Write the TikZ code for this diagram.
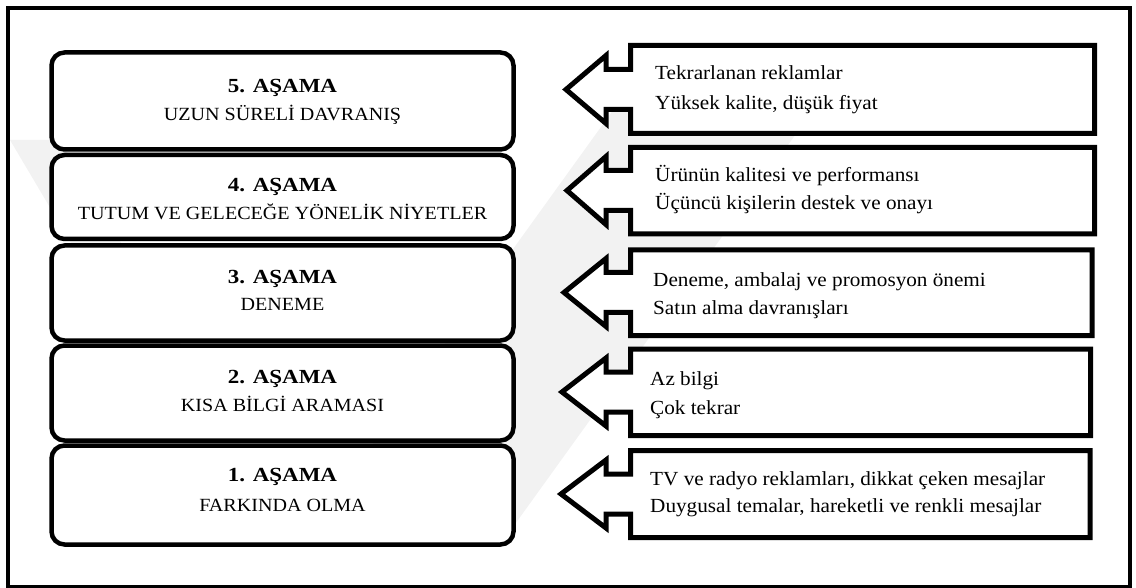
\documentclass[tikz,border=0pt]{standalone}
\usepackage{fontspec}
\setmainfont{Liberation Serif}[FakeStretch=1.06]
\newfontfamily\stagefont{Liberation Serif}[FakeStretch=1.08]
\newfontfamily\headfont{Liberation Serif}[FakeStretch=1.15]
\newcommand{\mycallout}[5]{%
  \draw[calloutshape] (630.5,#2) -- (#4,#2) -- (#4,#3) -- (630.5,#3) -- (630.5,{#1+20}) -- (606,{#1+20}) -- (606,{#1+34}) -- (#5,#1) -- (606,{#1-34}) -- (606,{#1-20}) -- (630.5,{#1-20}) -- cycle;}
\begin{document}
\begin{tikzpicture}[x=1pt,y=-1pt,
  stagebox/.style={draw=black, fill=white, line width=4.5pt, rounded corners=13pt, minimum width=462pt, inner sep=0pt},
  calloutshape/.style={draw=black, fill=white, line width=5pt, miter limit=10, line join=miter},
  stagehead/.style={anchor=base, inner sep=0pt, font=\headfont\bfseries\fontsize{20}{24}\selectfont},
  stagetext/.style={anchor=base, inner sep=0pt, font=\stagefont\fontsize{18.6}{22}\selectfont},
  callouttext/.style={anchor=base west, inner sep=0pt, font=\fontsize{20}{24}\selectfont},
  watermark/.style={fill=black!5, draw=none}]
\useasboundingbox (0,0) rectangle (1136,588);
% faint watermark
\begin{scope}
  \clip (8,8) rectangle (1130,586.5);
  \fill[watermark] (10,140) -- (60,140) -- (300,545) -- (250,545) -- cycle;
  \fill[watermark] (300,545) -- (500,545) -- (860,45) -- (660,45) -- cycle;
\end{scope}
% outer frame
\draw[line width=3.5pt] (8,8) rectangle (1130,586.5);
% stage boxes
\node[stagebox, minimum height=97pt] (s5) at (282.5,101) {};
\node[stagebox, minimum height=84pt] (s4) at (282.5,197) {};
\node[stagebox, minimum height=95pt] (s3) at (282.5,293) {};
\node[stagebox, minimum height=95pt] (s2) at (282.5,393) {};
\node[stagebox, minimum height=99pt] (s1) at (282.5,495) {};
\node[stagehead] (s5h) at (282.5,92.7) {5. AŞAMA};
\node[stagetext] (s5t) at (282.5,120.7) {UZUN SÜRELİ DAVRANIŞ};
\node[stagehead] (s4h) at (282.5,191.7) {4. AŞAMA};
\node[stagetext] (s4t) at (282.5,219.3) {TUTUM VE GELECEĞE YÖNELİK NİYETLER};
\node[stagehead] (s3h) at (282.5,283.3) {3. AŞAMA};
\node[stagetext] (s3t) at (282.5,311) {DENEME};
\node[stagehead] (s2h) at (282.5,383.3) {2. AŞAMA};
\node[stagetext] (s2t) at (282.5,411) {KISA BİLGİ ARAMASI};
\node[stagehead] (s1h) at (282.5,481.7) {1. AŞAMA};
\node[stagetext] (s1t) at (282.5,511.7) {FARKINDA OLMA};
% callouts
\mycallout{89.5}{45.5}{133.5}{1094.5}{566}
\mycallout{190.5}{147.5}{234}{1094.5}{567}
\mycallout{292.5}{250}{335.5}{1092}{564}
\mycallout{392}{349}{435.5}{1090.5}{562}
\mycallout{494}{450.5}{537.5}{1090}{561}
\node[callouttext] (c5a) at (655,80) {Tekrarlanan reklamlar};
\node[callouttext] (c5b) at (655,109.3) {Yüksek kalite, düşük fiyat};
\node[callouttext] (c4a) at (655,181.7) {Ürünün kalitesi ve performansı};
\node[callouttext] (c4b) at (655,210) {Üçüncü kişilerin destek ve onayı};
\node[callouttext] (c3a) at (653,286.7) {Deneme, ambalaj ve promosyon önemi};
\node[callouttext] (c3b) at (653,315) {Satın alma davranışları};
\node[callouttext] (c2a) at (650,385) {Az bilgi};
\node[callouttext] (c2b) at (650,414) {Çok tekrar};
\node[callouttext] (c1a) at (650,485) {TV ve radyo reklamları, dikkat çeken mesajlar};
\node[callouttext] (c1b) at (650,512.7) {Duygusal temalar, hareketli ve renkli mesajlar};
\end{tikzpicture}
\end{document}
